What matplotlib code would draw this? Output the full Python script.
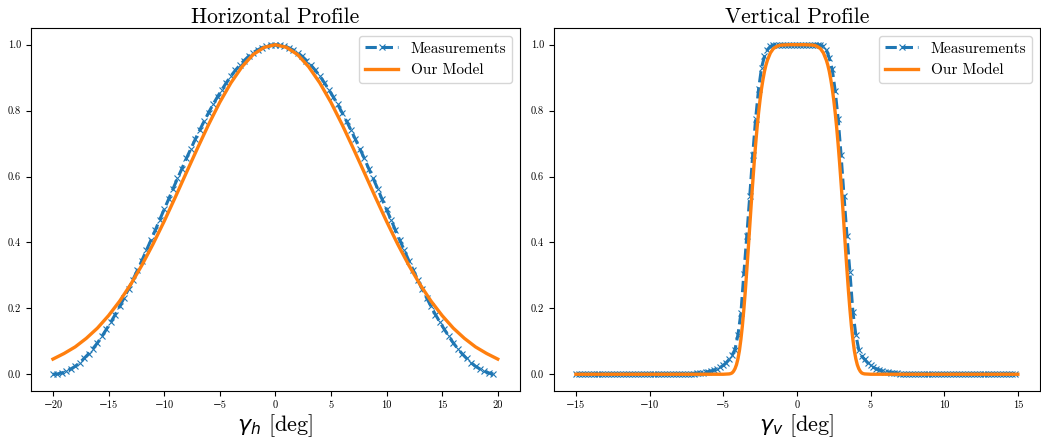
import matplotlib
matplotlib.use('Agg')
import matplotlib.pyplot as plt
import numpy as np

plt.rcParams['font.family'] = ['cmr10', 'DejaVu Serif']
plt.rcParams['mathtext.fontset'] = 'dejavusans'

# horizontal profile, measurements every 0.4 deg from -20 to 19.6
meas_h_start, meas_h_stop, meas_h_n = -20.0, 19.6, 100
meas_h = [0.0, 0.001, 0.004, 0.009, 0.016, 0.024, 0.035, 0.048, 0.062, 0.078,
          0.095, 0.115, 0.136, 0.158, 0.181, 0.206, 0.232, 0.259, 0.287, 0.316,
          0.345, 0.376, 0.406, 0.437, 0.469, 0.5, 0.531, 0.563, 0.594, 0.624,
          0.655, 0.684, 0.713, 0.741, 0.768, 0.794, 0.819, 0.842, 0.864, 0.885,
          0.905, 0.922, 0.938, 0.952, 0.965, 0.976, 0.984, 0.991, 0.996, 0.999,
          1.0,
          0.999, 0.996, 0.991, 0.984, 0.976, 0.965, 0.952, 0.938, 0.922, 0.905,
          0.885, 0.864, 0.842, 0.819, 0.794, 0.768, 0.741, 0.713, 0.684, 0.655,
          0.624, 0.594, 0.563, 0.531, 0.5, 0.469, 0.437, 0.406, 0.376, 0.345,
          0.316, 0.287, 0.259, 0.232, 0.206, 0.181, 0.158, 0.136, 0.115, 0.095,
          0.078, 0.062, 0.048, 0.035, 0.024, 0.016, 0.009, 0.004, 0.001]

model_h_x = list(range(-20, 21))
model_h = [0.046, 0.063, 0.083, 0.109, 0.140, 0.178, 0.222, 0.273, 0.331, 0.395,
           0.464, 0.537, 0.612, 0.686, 0.758, 0.825, 0.884, 0.933, 0.970, 0.992,
           1.0,
           0.992, 0.970, 0.933, 0.884, 0.825, 0.758, 0.686, 0.612, 0.537, 0.464,
           0.395, 0.331, 0.273, 0.222, 0.178, 0.140, 0.109, 0.083, 0.063, 0.046]

# vertical profile, measurements every 0.2 deg from -15 to 14.8
meas_v_start, meas_v_stop, meas_v_n = -15.0, 14.8, 150
meas_v = ([0.0] * 39 +
          [0.001, 0.002, 0.003, 0.004, 0.005, 0.006, 0.008, 0.010, 0.013, 0.016,
           0.021, 0.027, 0.035, 0.045, 0.058, 0.075, 0.12, 0.185, 0.305, 0.42,
           0.54, 0.665, 0.775, 0.865, 0.93, 0.965, 0.985, 0.995, 0.999] +
          [1.0] * 15 +
          [0.999, 0.995, 0.985, 0.96, 0.925, 0.86, 0.775, 0.665, 0.54, 0.42,
           0.31, 0.19, 0.12, 0.075, 0.055, 0.045, 0.035, 0.027, 0.021, 0.016,
           0.013, 0.010, 0.008, 0.006, 0.005, 0.004, 0.003, 0.002, 0.001] +
          [0.0] * 38)

model_v_x = [-15, -8, -6, -5, -4.6, -4.5, -4.4, -4.3, -4.2, -4.1, -4.0, -3.9,
             -3.8, -3.7, -3.6, -3.5, -3.4, -3.3, -3.2, -3.1, -3.0, -2.9, -2.8,
             -2.7, -2.6, -2.5, -2.4, -2.3, -2.2, -2.1, -2.0, -1.8, -1.6, -1.4,
             -1.2, -1.0, -0.5, 0,
             0.5, 1.0, 1.2, 1.4, 1.6, 1.8, 2.0, 2.1, 2.2, 2.3, 2.4, 2.5, 2.6,
             2.7, 2.8, 2.9, 3.0, 3.1, 3.2, 3.3, 3.4, 3.5, 3.6, 3.7, 3.8, 3.9,
             4.0, 4.1, 4.2, 4.3, 4.4, 4.5, 4.6, 5, 6, 8, 15]
model_v = [0, 0, 0, 0, 0.001, 0.002, 0.004, 0.009, 0.017, 0.029, 0.047, 0.072,
           0.106, 0.147, 0.197, 0.253, 0.316, 0.381, 0.449, 0.516, 0.580, 0.641,
           0.698, 0.749, 0.794, 0.833, 0.867, 0.895, 0.919, 0.938, 0.953, 0.975,
           0.988, 0.994, 0.998, 0.999, 1.0, 1.0,
           1.0, 0.999, 0.998, 0.994, 0.988, 0.975, 0.953, 0.938, 0.919, 0.895,
           0.867, 0.833, 0.794, 0.749, 0.698, 0.641, 0.580, 0.516, 0.449, 0.381,
           0.316, 0.253, 0.197, 0.147, 0.106, 0.072, 0.047, 0.029, 0.017, 0.009,
           0.004, 0.002, 0.001, 0, 0, 0, 0]

fig = plt.figure(figsize=(10.41, 4.41), dpi=100)
ax1 = fig.add_axes([0.0295, 0.114, 0.470, 0.822])
ax2 = fig.add_axes([0.532, 0.114, 0.467, 0.822])

panels = [
    (ax1, np.linspace(meas_h_start, meas_h_stop, meas_h_n), meas_h,
     model_h_x, model_h, 'Horizontal Profile', r'$\gamma_h$ [deg]'),
    (ax2, np.linspace(meas_v_start, meas_v_stop, meas_v_n), meas_v,
     model_v_x, model_v, 'Vertical Profile', r'$\gamma_v$ [deg]'),
]

for ax, mx, my, ox, oy, title, xlabel in panels:
    ax.plot(mx, my, '--x', color='#1f77b4', lw=2.2, ms=4, mew=0.8,
            label='Measurements')
    ax.plot(ox, oy, '-', color='#ff7f0e', lw=2.4, label='Our Model')
    ax.set_title(title, fontsize=15.5, pad=4)
    ax.set_xlabel(xlabel, fontsize=16, labelpad=2)
    ax.tick_params(labelsize=7.5)
    ax.legend(loc='upper right', fontsize=11, handlelength=2.2)

ax1.set_xticks([-20, -15, -10, -5, 0, 5, 10, 15, 20])
ax2.set_xticks([-15, -10, -5, 0, 5, 10, 15])
ax1.set_yticks([0.0, 0.2, 0.4, 0.6, 0.8, 1.0])
ax2.set_yticks([0.0, 0.2, 0.4, 0.6, 0.8, 1.0])

fig.savefig('out.png', dpi=100)
